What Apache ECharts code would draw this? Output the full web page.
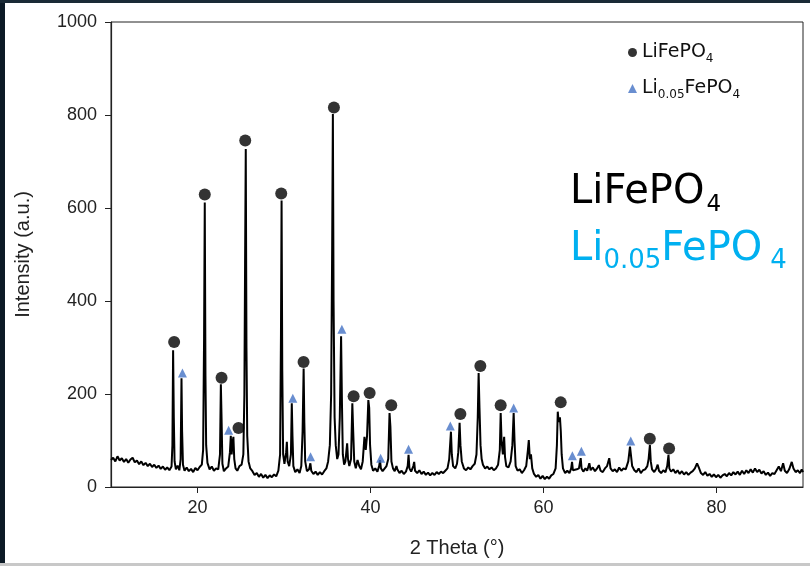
<!DOCTYPE html>
<html><head><meta charset="utf-8">
<script src="https://cdn.jsdelivr.net/npm/echarts@6/dist/echarts.min.js"></script>
<style>html,body{margin:0;padding:0;background:#fff}#c{width:810px;height:566px}</style>
</head><body><div id="c"></div>
<script>
// XRD pattern: [2theta, intensity]
const pattern = [
[10.0,58],[10.25,63],[10.5,55],[10.75,66],[11.0,57],[11.25,62],[11.5,54],[11.75,60],[12.0,52],[12.25,59],[12.5,63],[12.75,53],
[13.0,57],[13.25,49],[13.5,55],[13.75,47],[14.0,52],[14.25,45],[14.5,50],[14.75,43],[15.0,48],[15.25,41],[15.5,46],[15.75,39],
[16.0,44],[16.25,37],[16.5,42],[16.75,36],[17.0,44],[17.1,90],[17.18,294],[17.26,150],[17.35,55],[17.5,38],[17.7,46],[17.9,36],
[18.05,60],[18.15,234],[18.22,120],[18.32,48],[18.5,35],[18.75,42],[19.0,34],[19.25,39],[19.5,32],[19.75,41],[20.0,36],[20.25,43],
[20.5,48],[20.65,80],[20.76,320],[20.84,612],[20.92,240],[21.0,90],[21.15,52],[21.4,38],[21.65,44],[21.9,35],[22.15,40],[22.4,38],
[22.6,70],[22.7,221],[22.78,150],[22.88,50],[23.05,34],[23.3,40],[23.55,44],[23.75,75],[23.85,110],[23.95,70],[24.05,95],[24.15,108],
[24.25,60],[24.4,40],[24.6,35],[24.85,45],[25.1,48],[25.3,70],[25.42,200],[25.5,480],[25.58,727],[25.66,300],[25.75,110],[25.9,55],
[26.1,40],[26.35,34],[26.6,26],[26.85,30],[27.1,22],[27.35,28],[27.6,20],[27.85,26],[28.1,19],[28.35,25],[28.6,21],[28.85,27],
[29.1,23],[29.35,35],[29.55,70],[29.65,330],[29.72,616],[29.8,250],[29.9,70],[30.05,50],[30.25,75],[30.33,97],[30.42,55],[30.6,45],
[30.8,70],[30.9,180],[30.98,110],[31.08,45],[31.3,32],[31.55,38],[31.8,30],[32.0,45],[32.15,120],[32.27,255],[32.35,140],[32.45,55],
[32.65,34],[32.9,38],[33.05,51],[33.15,35],[33.4,28],[33.65,33],[33.9,26],[34.15,32],[34.4,27],[34.65,34],[34.9,40],[35.1,55],
[35.3,90],[35.45,200],[35.57,520],[35.65,802],[35.73,400],[35.85,150],[35.98,90],[36.15,60],[36.3,70],[36.45,150],[36.6,324],[36.7,180],
[36.8,70],[36.95,48],[37.1,55],[37.3,94],[37.4,60],[37.55,45],[37.75,60],[37.9,180],[38.0,120],[38.12,55],[38.3,40],[38.5,58],
[38.7,45],[38.9,38],[39.1,55],[39.3,108],[39.45,80],[39.6,110],[39.75,187],[39.85,170],[39.95,90],[40.1,48],[40.3,35],[40.55,40],
[40.8,33],[41.0,45],[41.1,58],[41.2,40],[41.4,34],[41.6,38],[41.85,45],[42.05,60],[42.2,159],[42.3,130],[42.42,55],[42.6,40],
[42.8,34],[43.0,45],[43.1,38],[43.35,30],[43.6,35],[43.85,28],[44.1,33],[44.3,45],[44.4,69],[44.5,40],[44.7,33],[44.95,45],
[45.05,54],[45.15,35],[45.4,30],[45.65,36],[45.9,28],[46.15,33],[46.4,26],[46.65,31],[46.9,25],[47.15,30],[47.4,26],[47.65,32],
[47.9,28],[48.15,33],[48.4,30],[48.65,35],[48.9,40],[49.1,60],[49.3,119],[49.4,70],[49.55,45],[49.8,40],[50.0,50],[50.15,75],
[50.3,138],[50.4,90],[50.55,55],[50.8,40],[51.05,36],[51.3,42],[51.55,38],[51.8,45],[52.05,50],[52.25,70],[52.4,150],[52.5,245],
[52.6,170],[52.72,90],[52.85,60],[53.0,48],[53.25,40],[53.5,44],[53.75,38],[54.0,42],[54.25,36],[54.5,40],[54.75,48],[54.95,80],
[55.05,159],[55.15,100],[55.3,70],[55.45,108],[55.55,65],[55.7,45],[55.95,42],[56.2,55],[56.4,90],[56.55,159],[56.65,100],[56.78,45],
[57.0,35],[57.25,38],[57.5,30],[57.75,36],[58.0,45],[58.2,80],[58.3,101],[58.42,60],[58.55,70],[58.7,40],[58.9,28],[59.15,22],
[59.4,26],[59.65,18],[59.9,24],[60.15,17],[60.4,22],[60.65,18],[60.9,25],[61.15,28],[61.4,40],[61.55,90],[61.65,162],[61.75,140],
[61.9,150],[62.0,120],[62.1,70],[62.25,40],[62.5,30],[62.75,35],[63.0,30],[63.2,40],[63.3,54],[63.4,36],[63.6,32],[63.85,38],
[64.1,40],[64.3,62],[64.4,40],[64.6,33],[64.85,40],[65.05,35],[65.3,51],[65.45,36],[65.7,42],[65.95,34],[66.2,40],[66.4,47],
[66.6,35],[66.85,32],[67.1,40],[67.35,45],[67.6,62],[67.75,40],[68.0,34],[68.25,38],[68.5,32],[68.75,42],[69.0,35],[69.25,40],
[69.5,38],[69.8,55],[70.0,87],[70.1,70],[70.25,45],[70.5,36],[70.75,32],[71.0,40],[71.25,30],[71.5,36],[71.75,38],[72.0,45],
[72.15,60],[72.3,90],[72.4,55],[72.55,38],[72.8,32],[73.05,40],[73.2,48],[73.35,35],[73.6,30],[73.85,36],[74.1,32],[74.3,45],
[74.45,69],[74.55,40],[74.75,33],[75.0,38],[75.25,30],[75.5,36],[75.75,28],[76.0,34],[76.25,27],[76.5,32],[76.75,26],[77.0,31],
[77.25,34],[77.5,40],[77.75,51],[77.95,42],[78.2,30],[78.45,26],[78.7,32],[78.95,24],[79.2,28],[79.45,22],[79.7,27],[79.95,21],
[80.2,26],[80.45,20],[80.7,25],[80.95,28],[81.2,23],[81.45,30],[81.7,25],[81.95,32],[82.2,27],[82.45,33],[82.7,26],[82.95,35],
[83.2,28],[83.45,36],[83.7,30],[83.95,38],[84.2,31],[84.45,40],[84.7,32],[84.95,37],[85.2,29],[85.45,34],[85.7,26],[85.95,31],
[86.2,24],[86.45,30],[86.7,28],[86.95,36],[87.2,44],[87.45,34],[87.7,51],[87.9,35],[88.15,30],[88.4,38],[88.7,54],[88.9,40],
[89.15,32],[89.4,36],[89.65,30],[89.85,38],[90.0,32]
];
// LiFePO4 marker positions
const circleX = [17.3, 20.84, 22.78, 24.74, 25.52, 29.68, 32.26, 35.77, 38.05, 39.9, 42.4, 50.39, 52.7, 55.05, 61.99, 72.29, 74.52];
const circleY = [312, 629, 235, 127, 745, 631, 269, 816, 195, 202, 176, 157, 260, 176, 182, 104, 83];
// Li0.05FePO4 marker positions
const triX = [18.26, 23.6, 31.02, 33.07, 36.69, 41.17, 44.4, 49.23, 56.55, 63.34, 64.38, 70.09];
const triY = [245, 122, 191, 65, 339, 62, 81, 131, 170, 67, 77, 99];
const xTicks = [20, 40, 60, 80];
const seriesNames = ['LiFePO4', 'Li0.05FePO4'];

const axisFont = 'Liberation Sans';
const bigFont = 'DejaVu Sans';
const chart = echarts.init(document.getElementById('c'), null, {renderer: 'canvas'});
chart.setOption({
  animation: false,
  backgroundColor: '#ffffff',
  grid: {left: 111, right: 7, top: 22, bottom: 79, show: true, borderColor: '#222', borderWidth: 1},
  xAxis: {
    type: 'value', min: 10, max: 90,
    axisLine: {show: true, onZero: false, lineStyle: {color: '#222', width: 1.2}},
    axisTick: {show: true, length: 6, customValues: xTicks, lineStyle: {color: '#222'}},
    axisLabel: {customValues: xTicks, fontFamily: axisFont, fontSize: 18, color: '#222', margin: 12,
      formatter: v => String(v)},
    splitLine: {show: false},
    name: '2 Theta (°)', nameLocation: 'middle', nameGap: 51,
    nameTextStyle: {fontFamily: axisFont, fontSize: 20, color: '#222'}
  },
  yAxis: {
    type: 'value', min: 0, max: 1000, interval: 200,
    axisLine: {show: true, lineStyle: {color: '#222', width: 1.2}},
    axisTick: {show: true, length: 6, lineStyle: {color: '#222'}},
    axisLabel: {fontFamily: axisFont, fontSize: 18, color: '#222', margin: 14, formatter: v => String(v)},
    splitLine: {show: false},
    name: 'Intensity (a.u.)', nameLocation: 'middle', nameGap: 78,
    nameTextStyle: {fontFamily: axisFont, fontSize: 20, color: '#222'}
  },
  legend: {
    orient: 'vertical', left: 628, top: 43, itemWidth: 9, itemHeight: 9, itemGap: 14, padding: 0,
    data: [{name: seriesNames[0], icon: 'circle'}, {name: seriesNames[1], icon: 'triangle'}],
    formatter: function (n) {
      return n === seriesNames[0] ? '{n|LiFePO}{s|4}' : '{n|Li}{s|0.05}{n|FePO}{s|4}';
    },
    textStyle: {
      fontFamily: bigFont, color: '#111',
      rich: {
        n: {fontFamily: bigFont, fontSize: 19, lineHeight: 25, color: '#111'},
        s: {fontFamily: bigFont, fontSize: 12, lineHeight: 4, verticalAlign: 'bottom', color: '#111'}
      }
    }
  },
  graphic: [
    {type: 'rect', left: 0, top: 0, shape: {width: 5, height: 566}, style: {fill: '#0c1a26'}, silent: true},
    {type: 'rect', left: 0, top: 0, shape: {width: 810, height: 3}, style: {fill: '#1a2a36'}, silent: true},
    {type: 'rect', left: 0, top: 563, shape: {width: 810, height: 3}, style: {fill: '#c8c8c8'}, silent: true},
    {type: 'text', left: 570, top: 173, style: {
      text: '{n|LiFePO}{s|4}',
      rich: {
        n: {fontFamily: bigFont, fontSize: 40, lineHeight: 48, fill: '#000'},
        s: {fontFamily: bigFont, fontSize: 23, lineHeight: 1, verticalAlign: 'bottom', fill: '#000', padding: [0, 0, 0, 2]}
      }
    }},
    {type: 'text', left: 570, top: 230, style: {
      text: '{n|Li}{s|0.05}{n|FePO}{t|4}',
      rich: {
        n: {fontFamily: bigFont, fontSize: 40, lineHeight: 48, fill: '#00B0F0'},
        s: {fontFamily: bigFont, fontSize: 26, lineHeight: 1, verticalAlign: 'bottom', fill: '#00B0F0'},
        t: {fontFamily: bigFont, fontSize: 26, lineHeight: 1, verticalAlign: 'bottom', fill: '#00B0F0', padding: [0, 0, 0, 8]}
      }
    }}
  ],
  series: [
    {
      type: 'line', data: pattern, showSymbol: false, symbol: 'none',
      lineStyle: {color: '#000', width: 2}, z: 2, silent: true
    },
    {
      name: seriesNames[0], type: 'scatter', symbol: 'circle', symbolSize: 12,
      itemStyle: {color: '#000'}, z: 3,
      data: circleX.map((x, i) => [x, circleY[i]])
    },
    {
      name: seriesNames[1], type: 'scatter', symbol: 'triangle', symbolSize: 9,
      itemStyle: {color: '#4472C4'}, z: 3,
      data: triX.map((x, i) => [x, triY[i]])
    }
  ]
});
</script></body></html>
